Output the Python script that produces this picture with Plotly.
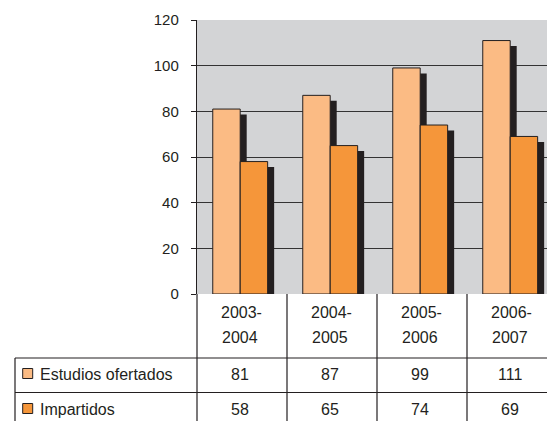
import plotly.graph_objects as go

categories = ["2003-2004", "2004-2005", "2005-2006", "2006-2007"]
series_names = ["Estudios ofertados", "Impartidos"]
ofertados = [81, 87, 99, 111]
impartidos = [58, 65, 74, 69]
y_ticks = [0, 20, 40, 60, 80, 100, 120]

W, H = 547, 421
ML, MT, MB = 197, 20, 127
PW = W - ML
PH = H - MT - MB
ZERO_PX = H - MB

LIGHT = "#FBBB84"
ORANGE = "#F5963A"
DARK = "#231F20"
BG = "#D3D4D6"
FONT = "Liberation Sans"

def px_x(px):
    return (px - ML) / PW

def px_y(py):
    return (ZERO_PX - py) / PH

cat_w = 90.0
x_max = -0.5 + PW / cat_w
idx = list(range(len(categories)))

bw = 0.305
off_light = -0.325
off_orange = off_light + bw
sh_dx = 6.5 / cat_w
u = 120 / PH  # data units per pixel
sh_drop = 5.5 * u
sh_below = 2.7 * u

fig = go.Figure()

def shadow(vals, off):
    return go.Bar(
        x=idx, y=[v - sh_drop + sh_below for v in vals], base=[-sh_below] * len(vals),
        offset=off + sh_dx, width=bw, marker=dict(color=DARK, line=dict(width=0)),
        showlegend=False, hoverinfo="skip", cliponaxis=False,
    )

fig.add_trace(shadow(ofertados, off_light))
fig.add_trace(go.Bar(x=idx, y=ofertados, offset=off_light, width=bw, name=series_names[0],
                     marker=dict(color=LIGHT, line=dict(color=DARK, width=1)), showlegend=False))
fig.add_trace(shadow(impartidos, off_orange))
fig.add_trace(go.Bar(x=idx, y=impartidos, offset=off_orange, width=bw, name=series_names[1],
                     marker=dict(color=ORANGE, line=dict(color=DARK, width=1)), showlegend=False))

shapes = []
annotations = []
LC = dict(color=DARK, width=1.2)
row_lines = [358, 392.5]
bottom_px = H + 5
for py in row_lines:
    shapes.append(dict(type="line", xref="paper", yref="paper", x0=px_x(15), x1=1.02,
                       y0=px_y(py), y1=px_y(py), line=LC))
shapes.append(dict(type="line", xref="paper", yref="paper", x0=px_x(15), x1=px_x(15),
                   y0=px_y(358), y1=px_y(bottom_px), line=LC))
shapes.append(dict(type="line", xref="paper", yref="paper", x0=0, x1=0,
                   y0=0, y1=px_y(bottom_px), line=LC))
for i in idx[:-1]:
    shapes.append(dict(type="line", xref="x", yref="paper", x0=i + 0.5, x1=i + 0.5,
                       y0=0, y1=px_y(bottom_px), line=LC))

tf = dict(family=FONT, size=16, color=DARK)
for i, c in enumerate(categories):
    a, b = c.split("-")
    annotations.append(dict(x=i, y=px_y(312), xref="x", yref="paper", text=a + "-",
                            showarrow=False, font=tf, xanchor="center", yanchor="middle", xshift=-1))
    annotations.append(dict(x=i, y=px_y(337.5), xref="x", yref="paper", text=b,
                            showarrow=False, font=tf, xanchor="center", yanchor="middle", xshift=-2))

row_centers = [374.5, 409.5]
colors = [LIGHT, ORANGE]
for r, (name, vals) in enumerate(zip(series_names, [ofertados, impartidos])):
    yc = row_centers[r]
    annotations.append(dict(x=px_x(38), y=px_y(yc), xref="paper", yref="paper", text=name,
                            showarrow=False, font=tf, xanchor="left", yanchor="middle"))
    shapes.append(dict(type="rect", xref="paper", yref="paper", x0=px_x(22.7), x1=px_x(32.7),
                       y0=px_y(yc - 6), y1=px_y(yc + 4), fillcolor=colors[r],
                       line=dict(color=DARK, width=1)))
    for i, v in enumerate(vals):
        annotations.append(dict(x=i, y=px_y(yc), xref="x", yref="paper", text=str(v),
                                showarrow=False, font=tf, xanchor="center", yanchor="middle",
                                xshift=-2))

fig.update_layout(
    width=W, height=H,
    margin=dict(l=ML, r=0, t=MT, b=MB, pad=0),
    paper_bgcolor="white", plot_bgcolor=BG,
    barmode="overlay",
    shapes=shapes, annotations=annotations,
    font=dict(family=FONT, color=DARK),
    xaxis=dict(range=[-0.5, x_max], showticklabels=False, showgrid=False, zeroline=False,
               showline=False, ticks="", fixedrange=True),
    yaxis=dict(range=[0, 120], tickvals=y_ticks, ticktext=[str(t) for t in y_ticks],
               showgrid=True, gridcolor="#333333", gridwidth=1, zeroline=False,
               showline=True, linecolor=DARK, linewidth=1.2,
               ticks="outside", ticklen=5, tickcolor=DARK, tickwidth=1,
               tickfont=dict(family=FONT, size=15, color=DARK), ticklabelstandoff=9,
               fixedrange=True),
)

fig.write_html("out.html", config={"displayModeBar": False, "staticPlot": True},
               post_script="document.body.style.margin='0';document.body.style.overflow='hidden';")
